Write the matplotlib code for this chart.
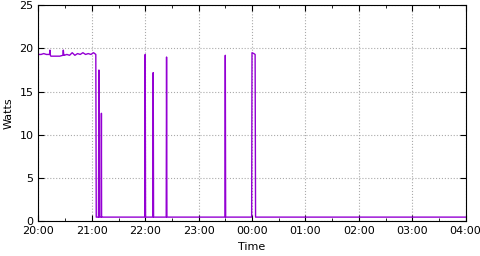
import matplotlib.pyplot as plt
import matplotlib.dates as mdates
from datetime import datetime, timedelta

# minutes after 20:00 and measured power
minutes = [0, 3, 6, 9, 12.5, 13, 13.5, 14, 16, 20, 24, 27.5, 28, 28.5, 29, 32, 35, 38, 41, 44, 47,
           50, 53, 56, 59, 62, 64.5, 65, 67.5, 68, 68.3, 70.5, 70.8, 71, 71.3, 80, 100,
           119.6, 120, 120.4, 128.6, 129, 129.4, 143.6, 144, 144.4, 200, 209.6, 210,
           210.4, 239.6, 240, 242, 243.5, 244, 300, 360, 420, 480]
watts = [19.3, 19.3, 19.4, 19.3, 19.3, 19.8, 19.2, 19.1, 19.1, 19.1, 19.1, 19.2, 19.8,
         19.2, 19.2, 19.3, 19.2, 19.5, 19.2, 19.4, 19.3, 19.5, 19.3, 19.4, 19.3, 19.5, 19.3,
         0.5, 0.5, 17.5, 0.5, 0.5, 12.5, 0.5, 0.5, 0.5, 0.5,
         0.5, 19.3, 0.5, 0.5, 17.2, 0.5, 0.5, 19.0, 0.5, 0.5, 0.5, 19.2,
         0.5, 0.5, 19.5, 19.4, 19.3, 0.5, 0.5, 0.5, 0.5, 0.5]

start = datetime(2020, 1, 1, 20, 0)
times = [start + timedelta(minutes=m) for m in minutes]

fig, ax = plt.subplots(figsize=(4.8, 2.56), dpi=100)
ax.plot(times, watts, color='#9400d3', linewidth=1)

ax.set_xlim(start, start + timedelta(hours=8))
ax.set_ylim(0, 25)
ax.set_yticks([0, 5, 10, 15, 20, 25])
ax.xaxis.set_major_locator(mdates.HourLocator())
ax.xaxis.set_minor_locator(mdates.MinuteLocator(byminute=[30]))
ax.xaxis.set_major_formatter(mdates.DateFormatter('%H:%M'))
ax.tick_params(which='both', direction='in', top=True, right=True, labelsize=8)
ax.tick_params(which='major', length=4)
ax.tick_params(which='minor', length=2)
ax.grid(True, color='#aaaaaa', linestyle=':', linewidth=0.8)
ax.set_xlabel('Time', fontsize=8)
ax.set_ylabel('Watts', fontsize=8)

plt.subplots_adjust(left=0.08, right=0.97, bottom=0.135, top=0.98)
plt.savefig('out.png')
